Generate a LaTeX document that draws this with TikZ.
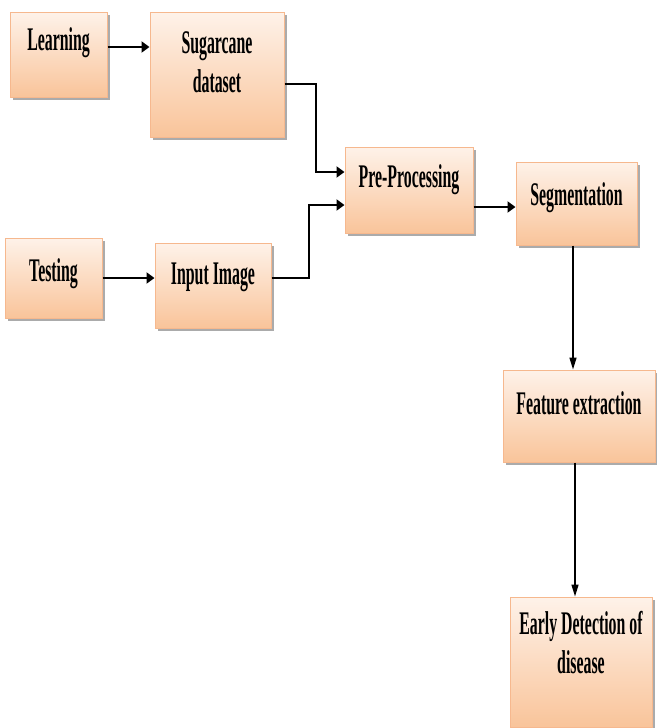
\documentclass[tikz,border=0pt]{standalone}
\usepackage{fontspec}
\setmainfont{Liberation Serif}[FakeStretch=0.48]
\usepackage{tikz}
\usetikzlibrary{arrows.meta,positioning,shadows}
\definecolor{peachtop}{HTML}{FEF2E9}
\definecolor{peachbot}{HTML}{F9C49A}
\definecolor{peachline}{HTML}{F6B88E}
\definecolor{shadowgray}{HTML}{ABABAB}

\begin{document}
\begin{tikzpicture}[
    x=1pt, y=-1pt,
    box/.style={rectangle, draw=peachline, line width=1pt, top color=peachtop, bottom color=peachbot,
        drop shadow={shadow xshift=3pt, shadow yshift=-3pt, fill=shadowgray, opacity=1}},
    txt/.style={anchor=north, yshift=-#1, align=center, inner sep=0pt,
        font=\fontsize{33}{39}\selectfont\bfseries},
    arr/.style={-{Triangle[length=8pt,width=11pt]}, line width=2pt},
    varr/.style={-{Triangle[length=12pt,width=7pt]}, line width=1.5pt}
]
\useasboundingbox (0,0) rectangle (656,728);

% input side
\node[box, minimum width=97pt, minimum height=85pt, label={[txt=16pt]north:Learning}] (learn) at (58.5,54.5) {};
\node[box, minimum width=134pt, minimum height=125pt, label={[txt=20pt]north:Sugarcane\\dataset}] (sugar) at (217,74.5) {};
\node[box, minimum width=97pt, minimum height=80pt, label={[txt=21pt]north:Testing}] (test) at (53.5,278) {};
\node[box, minimum width=116pt, minimum height=85pt, label={[txt=20pt]north:Input Image}] (input) at (213,285.5) {};

% processing chain
\node[box, minimum width=128pt, minimum height=86pt, label={[txt=18pt]north:Pre-Processing}] (pre) at (409,190) {};
\node[box, minimum width=121pt, minimum height=83pt, label={[txt=21pt]north:Segmentation}] (seg) at (576.5,203.5) {};
\node[box, minimum width=152pt, minimum height=92pt, label={[txt=22pt]north:Feature extraction}] (feat) at (579,416) {};
\node[box, minimum width=142pt, minimum height=130pt, label={[txt=15pt]north:Early Detection of\\disease}] (early) at (581,662) {};

\draw[arr] ([yshift=7.5pt]learn.east) -- ([yshift=7.5pt]learn.east -| sugar.west);
\draw[arr] ([yshift=-9.5pt]sugar.east) -- ++(31,0) |- ([yshift=18pt]pre.west);
\draw[arr] (test.east) -- (test.east -| input.west);
\draw[arr] ([yshift=7.5pt]input.east) -- ++(37,0) |- ([yshift=-15pt]pre.west);
\draw[arr] ([yshift=-17pt]pre.east) -- ([yshift=-17pt]pre.east -| seg.west);
\draw[varr] ([xshift=-3.5pt]seg.south) -- ([xshift=-3.5pt]seg.south |- feat.north);
\draw[varr] ([xshift=-4pt]feat.south) -- ([xshift=-4pt]feat.south |- early.north);

\end{tikzpicture}
\end{document}
